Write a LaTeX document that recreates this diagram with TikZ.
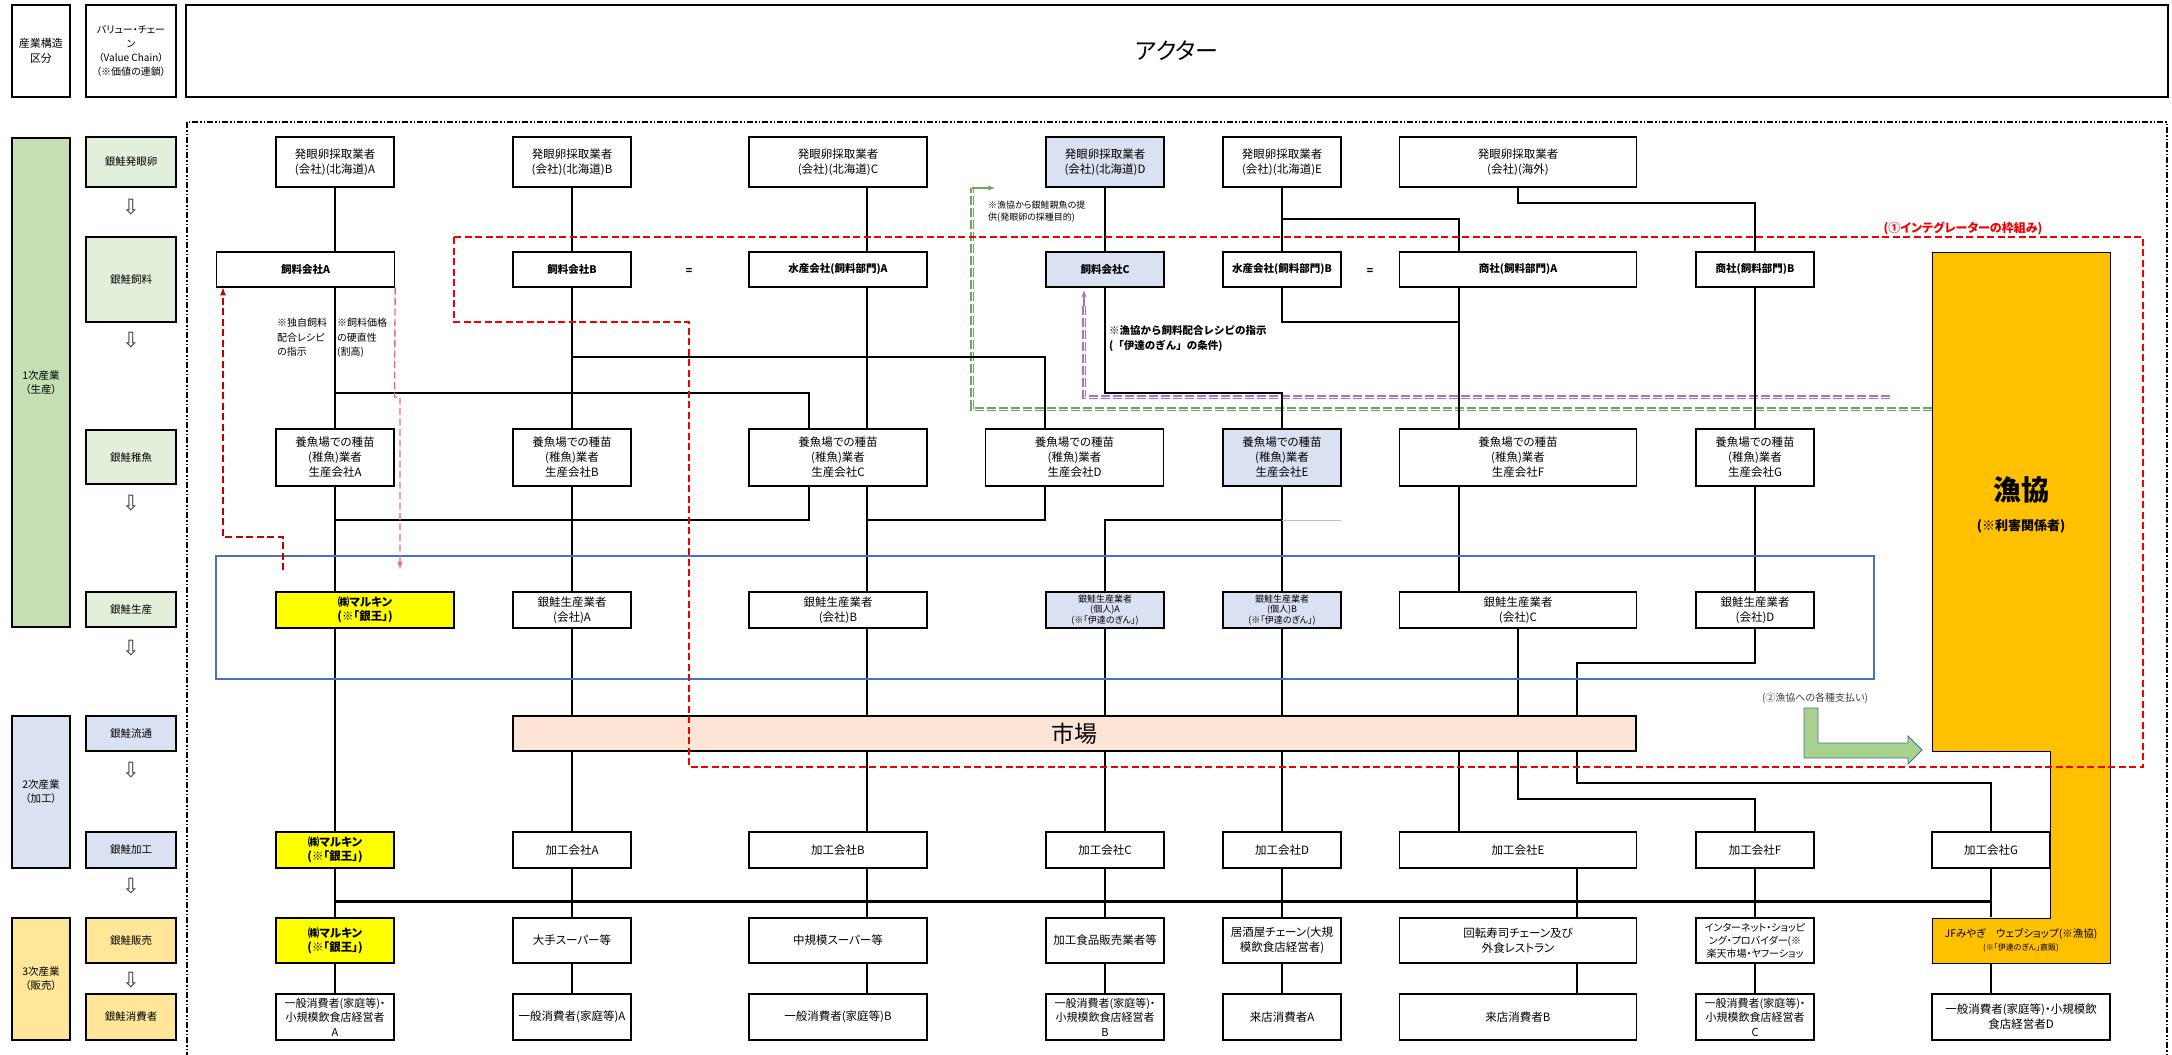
\documentclass[tikz,border=0pt]{standalone}
\usepackage{fontspec}
\setmainfont{Noto Sans CJK JP}[RawFeature=+palt]
\newfontfamily\jpplain{Noto Sans CJK JP}
\newfontfamily\symfont{DejaVu Sans}
\usetikzlibrary{arrows,scopes,shapes.geometric}
\definecolor{fillgreen}{RGB}{226,239,218}
\definecolor{catgreen}{RGB}{197,224,180}
\definecolor{fillblue}{RGB}{217,225,242}
\definecolor{fillyel}{RGB}{255,230,153}
\definecolor{marukin}{RGB}{255,255,0}
\definecolor{gyokyo}{RGB}{255,192,0}
\definecolor{ichiba}{RGB}{252,228,214}
\definecolor{frred}{RGB}{240,0,0}
\definecolor{darkred}{RGB}{192,0,0}
\definecolor{pinkred}{RGB}{232,110,110}
\definecolor{dgreen}{RGB}{110,165,100}
\definecolor{dpurple}{RGB}{165,115,205}
\definecolor{rectblue}{RGB}{68,114,196}
\definecolor{payfill}{RGB}{169,209,142}
\definecolor{payline}{RGB}{65,113,156}
\tikzstyle{hdbox} = [rectangle, draw=black, line width=1.6pt, align=center, inner sep=0pt]
\tikzstyle{vcbox} = [rectangle, draw=black, line width=1.8pt, minimum width=90, align=center, inner sep=0pt, font=\fontsize{10.5}{13}\selectfont]
\tikzstyle{actor} = [rectangle, draw=black, line width=1.3pt, fill=white, minimum width=118, align=center, inner sep=0pt, font=\fontsize{11.5}{15}\selectfont]
\tikzstyle{midw} = [minimum width=178]
\tikzstyle{widew} = [minimum width=237]
\tikzstyle{feedtxt} = [font=\bfseries\fontsize{10.5}{13}\selectfont]
\tikzstyle{mkbox} = [fill=marukin, font=\bfseries\fontsize{11.5}{14}\selectfont]
\tikzstyle{conn} = [line width=2.4pt]
\tikzstyle{redline} = [line width=1.8pt, dash pattern=on 7pt off 3.5pt]
\tikzstyle{gdash} = [draw=white, line width=1pt, dash pattern=on 9pt off 3pt, preaction={draw=dgreen, line width=3.2pt, dash pattern=on 9pt off 3pt}]
\tikzstyle{pdash} = [draw=white, line width=1pt, dash pattern=on 9pt off 3pt, preaction={draw=dpurple, line width=3.2pt, dash pattern=on 9pt off 3pt}]
\tikzstyle{memo} = [anchor=north west, align=left, inner sep=0pt]
\tikzstyle{dnarrow} = [font=\symfont\fontsize{21}{21}\selectfont, text=black!75]

\begin{document}
\begin{tikzpicture}[x=1pt, y=-1pt]
    \useasboundingbox (0,0) rectangle (2172,1055);
    \clip (0,0) rectangle (2172,1055);
    \draw[line width=1.8pt, dash pattern=on 6pt off 2pt on 1.5pt off 2pt on 1.5pt off 2pt] (187,122) rectangle (2167,1080);
    \draw[fill=gyokyo, line width=1pt] (1932,252) -- (2110,252) -- (2110,963) -- (1932,963) -- (1932,918) -- (2050,918) -- (2050,751) -- (1932,751) -- cycle;

    \node[hdbox, minimum width=58, minimum height=92, font=\fontsize{11}{15}\selectfont] (hdKubun) at (41,51) {産業構造\\区分};
    \node[hdbox, minimum width=90, minimum height=92, font=\fontsize{10}{14}\selectfont] (hdChain) at (131,51) {バリュー・チェー\\ン\\（Value Chain）\\（※価値の連鎖）};
    \node[hdbox, minimum width=1982, minimum height=92, font=\fontsize{23}{25}\selectfont] (hdActor) at (1177,51) {アクター};

    \node[hdbox, fill=catgreen, minimum width=58, minimum height=489, font=\fontsize{10.5}{14}\selectfont] (cat1) at (41,382.5) {1次産業\\（生産）};
    \node[hdbox, fill=fillblue, minimum width=58, minimum height=152, font=\fontsize{10.5}{14}\selectfont] (cat2) at (41,792) {2次産業\\（加工）};
    \node[hdbox, fill=fillyel, minimum width=58, minimum height=122, font=\fontsize{10.5}{14}\selectfont] (cat3) at (41,979) {3次産業\\（販売）};

    \node[vcbox, fill=fillgreen, minimum height=50] (vc1) at (131,162) {銀鮭発眼卵};
    \node[vcbox, fill=fillgreen, minimum height=85] (vc2) at (131,279.5) {銀鮭飼料};
    \node[vcbox, fill=fillgreen, minimum height=54] (vc3) at (131,457) {銀鮭稚魚};
    \node[vcbox, fill=fillgreen, minimum height=35] (vc4) at (131,609.5) {銀鮭生産};
    \node[vcbox, fill=fillblue, minimum height=35] (vc5) at (131,733.5) {銀鮭流通};
    \node[vcbox, fill=fillblue, minimum height=36] (vc6) at (131,850) {銀鮭加工};
    \node[vcbox, fill=fillyel, minimum height=45] (vc7) at (131,940.5) {銀鮭販売};
    \node[vcbox, fill=fillyel, minimum height=46] (vc8) at (131,1017) {銀鮭消費者};
    \foreach \y [count=\i] in {207,340,503,648,770,886,980}
        \node[dnarrow] (dn\i) at (131,\y) {⇩};

    \begin{scope}[nodes={minimum height=50}]
        \node[actor] (hgA) at (335,162) {発眼卵採取業者\\(会社)(北海道)A};
        \node[actor] (hgB) at (572,162) {発眼卵採取業者\\(会社)(北海道)B};
        \node[actor, midw] (hgC) at (838,162) {発眼卵採取業者\\(会社)(北海道)C};
        \node[actor, fill=fillblue] (hgD) at (1105,162) {発眼卵採取業者\\(会社)(北海道)D};
        \node[actor] (hgE) at (1282,162) {発眼卵採取業者\\(会社)(北海道)E};
        \node[actor, widew] (hgX) at (1518,162) {発眼卵採取業者\\(会社)(海外)};
    \end{scope}
    \begin{scope}[nodes={minimum height=35}]
        \node[actor, midw, feedtxt] (fdA) at (305.5,269.5) {飼料会社A};
        \node[actor, feedtxt] (fdB) at (572,269.5) {飼料会社B};
        \node[actor, midw, feedtxt] (sfA) at (838,269.5) {水産会社(飼料部門)A};
        \node[actor, feedtxt, fill=fillblue] (fdC) at (1105,269.5) {飼料会社C};
        \node[actor, feedtxt] (sfB) at (1282,269.5) {水産会社(飼料部門)B};
        \node[actor, widew, feedtxt] (shA) at (1518,269.5) {商社(飼料部門)A};
        \node[actor, feedtxt] (shB) at (1755,269.5) {商社(飼料部門)B};
    \end{scope}
    \node[feedtxt] (eq1) at (689,271) {=};
    \node[feedtxt] (eq2) at (1370,271) {=};
    \begin{scope}[nodes={minimum height=57}]
        \node[actor] (ygA) at (335,457.5) {養魚場での種苗\\(稚魚)業者\\生産会社A};
        \node[actor] (ygB) at (572,457.5) {養魚場での種苗\\(稚魚)業者\\生産会社B};
        \node[actor, midw] (ygC) at (838,457.5) {養魚場での種苗\\(稚魚)業者\\生産会社C};
        \node[actor, midw] (ygD) at (1074.5,457.5) {養魚場での種苗\\(稚魚)業者\\生産会社D};
        \node[actor, fill=fillblue] (ygE) at (1282,457.5) {養魚場での種苗\\(稚魚)業者\\生産会社E};
        \node[actor, widew] (ygF) at (1518,457.5) {養魚場での種苗\\(稚魚)業者\\生産会社F};
        \node[actor] (ygG) at (1755,457.5) {養魚場での種苗\\(稚魚)業者\\生産会社G};
    \end{scope}
    \begin{scope}[nodes={minimum height=36}]
        \node[actor, midw, mkbox] (mk1) at (365,610) {㈱マルキン\\(※「銀王」)};
        \node[actor] (ssA) at (572,610) {銀鮭生産業者\\(会社)A};
        \node[actor, midw] (ssB) at (838,610) {銀鮭生産業者\\(会社)B};
        \node[actor, fill=fillblue, font=\fontsize{9}{10.5}\selectfont] (koA) at (1105,610) {銀鮭生産業者\\(個人)A\\(※「伊達のぎん」)};
        \node[actor, fill=fillblue, font=\fontsize{9}{10.5}\selectfont] (koB) at (1282,610) {銀鮭生産業者\\(個人)B\\(※「伊達のぎん」)};
        \node[actor, widew] (ssC) at (1518,610) {銀鮭生産業者\\(会社)C};
        \node[actor] (ssD) at (1755,610) {銀鮭生産業者\\(会社)D};
    \end{scope}
    \node[actor, fill=ichiba, minimum width=1123, minimum height=35, font=\fontsize{23}{25}\selectfont] (mkt) at (1074.5,733.5) {市場};
    \begin{scope}[nodes={minimum height=36}]
        \node[actor, mkbox] (mk2) at (335,850) {㈱マルキン\\(※「銀王」)};
        \node[actor] (kkA) at (572,850) {加工会社A};
        \node[actor, midw] (kkB) at (838,850) {加工会社B};
        \node[actor] (kkC) at (1105,850) {加工会社C};
        \node[actor] (kkD) at (1282,850) {加工会社D};
        \node[actor, widew] (kkE) at (1518,850) {加工会社E};
        \node[actor] (kkF) at (1755,850) {加工会社F};
        \node[actor] (kkG) at (1991,850) {加工会社G};
    \end{scope}
    \begin{scope}[nodes={minimum height=45}]
        \node[actor, mkbox] (mk3) at (335,940.5) {㈱マルキン\\(※「銀王」)};
        \node[actor] (spL) at (572,940.5) {大手スーパー等};
        \node[actor, midw] (spM) at (838,940.5) {中規模スーパー等};
        \node[actor] (kfs) at (1105,940.5) {加工食品販売業者等};
        \node[actor] (izk) at (1282,940.5) {居酒屋チェーン(大規\\模飲食店経営者)};
        \node[actor, widew] (ksu) at (1518,940.5) {回転寿司チェーン及び\\外食レストラン};
        \node[actor, font=\fontsize{10}{13}\selectfont] (net) at (1755,940.5) {インターネット・ショッピ\\ング・プロバイダー(※\\楽天市場・ヤフーショッ};
        \node[actor, midw, draw=none, fill=none, font=\fontsize{10.5}{13}\selectfont] (jf) at (2021,940.5) {JFみやぎ　ウェブショップ(※漁協)\\{\fontsize{8}{10}\selectfont (※「伊達のぎん」直販)}};
    \end{scope}
    \begin{scope}[nodes={minimum height=46}]
        \node[actor, font=\fontsize{11}{14.5}\selectfont] (cs1) at (335,1017) {一般消費者(家庭等)・\\小規模飲食店経営者\\A};
        \node[actor] (cs2) at (572,1017) {一般消費者(家庭等)A};
        \node[actor, midw] (cs3) at (838,1017) {一般消費者(家庭等)B};
        \node[actor, font=\fontsize{11}{14.5}\selectfont] (cs4) at (1105,1017) {一般消費者(家庭等)・\\小規模飲食店経営者\\B};
        \node[actor] (cs5) at (1282,1017) {来店消費者A};
        \node[actor, widew] (cs6) at (1518,1017) {来店消費者B};
        \node[actor, font=\fontsize{11}{14.5}\selectfont] (cs7) at (1755,1017) {一般消費者(家庭等)・\\小規模飲食店経営者\\C};
        \node[actor, midw] (cs8) at (2021,1017) {一般消費者(家庭等)・小規模飲\\食店経営者D};
    \end{scope}
    \node[align=center, font=\bfseries\fontsize{28}{30}\selectfont] (gk) at (2021,505) {漁協\\{\fontsize{13}{15}\selectfont (※利害関係者)}};

    \coordinate (gkG) at (1932,409);
    \coordinate (gArr) at (995,188);
    \draw[gdash] (gkG) -- (972,409) -- (972,188);
    \draw[dgreen, line width=1.3pt, -latex] (972,188) -- (gArr);
    \coordinate (pS) at (1890,397);
    \coordinate (pE) at (1084,290);
    \draw[pdash] (pS) -- (1084,397) -- (1084,306);
    \draw[dpurple, line width=1.3pt, -latex] (1084,306) -- (pE);

    \coordinate (tA) at (335,0);
    \coordinate (tB) at (572,0);
    \coordinate (tC1) at (809,0);
    \coordinate (tC) at (867,0);
    \coordinate (tD) at (1045,0);
    \coordinate (tE1) at (1105,0);
    \coordinate (tE) at (1282,0);
    \coordinate (tF1) at (1459,0);
    \coordinate (tF) at (1518,0);
    \coordinate (tF2) at (1577,0);
    \coordinate (tG) at (1755,0);
    \coordinate (tH) at (1991,0);
    \begin{scope}[conn]
        \draw (hgA.south -| tA) -- (fdA.north -| tA);
        \draw (hgB.south) -- (fdB.north);
        \draw (hgC.south -| tC) -- (sfA.north -| tC);
        \draw (hgD.south) -- (fdC.north);
        \draw (hgE.south) -- (sfB.north);
        \draw (tE |- 0,219) -| (shA.north -| tF1);
        \draw (hgX.south) |- (tG |- 0,203) -- (shB.north);
        \draw (fdA.south -| tA) -- (ygA.north -| tA);
        \draw (tA |- 0,393) -| (ygC.north -| tC1);
        \draw (fdB.south) -- (ygB.north);
        \draw (tB |- 0,357) -| (ygD.north -| tD);
        \draw (sfA.south -| tC) -- (ygC.north -| tC);
        \draw (fdC.south) |- (tE |- 0,393) -- (ygE.north);
        \draw (sfB.south) |- (tF1 |- 0,322);
        \draw (shA.south -| tF1) -- (ygF.north -| tF1);
        \draw (shB.south) -- (ygG.north);
        \draw (ygA.south -| tA) -- (mk1.north -| tA);
        \draw (ygC.south -| tC1) |- (tA |- 0,520);
        \draw (ygB.south) -- (ssA.north);
        \draw (ygC.south -| tC) -- (ssB.north -| tC);
        \draw (ygD.south -| tD) |- (tC |- 0,520);
        \draw (ygE.south) -- (koB.north);
        \draw (tE |- 0,520) -| (koA.north);
        \draw (ygF.south -| tF1) -- (ssC.north -| tF1);
        \draw (ygG.south) -- (ssD.north);
        \draw (mk1.south -| tA) -- (mk2.north);
        \draw (ssA.south) -- (mkt.north -| tB);
        \draw (ssB.south -| tC) -- (mkt.north -| tC);
        \draw (koA.south) -- (mkt.north -| tE1);
        \draw (koB.south) -- (mkt.north -| tE);
        \draw (ssC.south) -- (mkt.north -| tF);
        \draw (ssD.south) |- (tF2 |- 0,663) -- (mkt.north -| tF2);
        \draw (mkt.south -| tB) -- (kkA.north);
        \draw (mkt.south -| tC) -- (kkB.north -| tC);
        \draw (mkt.south -| tE1) -- (kkC.north);
        \draw (mkt.south -| tE) -- (kkD.north);
        \draw (mkt.south -| tF1) -- (kkE.north -| tF1);
        \draw (mkt.south -| tF) |- (tG |- 0,799) -- (kkF.north);
        \draw (mkt.south -| tF2) |- (tH |- 0,783) -- (kkG.north);
        \draw[line width=3pt] (tA |- 0,901) -- (tH |- 0,901);
        \draw (mk2.south) -- (mk3.north);
        \draw (kkA.south) -- (spL.north);
        \draw (kkB.south -| tC) -- (spM.north -| tC);
        \draw (kkC.south) -- (kfs.north);
        \draw (kkD.south) -- (izk.north);
        \draw (kkE.south -| tF2) -- (ksu.north -| tF2);
        \draw (kkF.south) -- (net.north);
        \draw (kkG.south) -- (jf.north -| tH);
        \draw (mk3.south) -- (cs1.north);
        \draw (spL.south) -- (cs2.north);
        \draw (spM.south -| tC) -- (cs3.north -| tC);
        \draw (kfs.south) -- (cs4.north);
        \draw (izk.south) -- (cs5.north);
        \draw (ksu.south -| tF2) -- (cs6.north -| tF2);
        \draw (net.south) -- (cs7.north);
        \draw (jf.south -| tH) -- (cs8.north -| tH);
    \end{scope}
    \draw[black!25, line width=0.8pt] (tE |- 0,520) -- (1341,520);

    \draw[rectblue, line width=1.3pt] (216,556) rectangle (1874,679);
    \draw[redline, frred] (454,237) -- (2143,237) -- (2143,767) -- (689,767) -- (689,322) -- (454,322) -- cycle;
    \node[text=frred, font=\bfseries\fontsize{12}{14}\selectfont] (intL) at (1963,228) {(①インテグレーターの枠組み)};

    \coordinate (rA) at (283,570);
    \coordinate (rB) at (400,569);
    \draw[redline, darkred, line width=1.6pt, -latex] (rA) |- (223,537) -- (fdA.south -| 223,0);
    \draw[redline, pinkred, line width=1.4pt, -latex] (fdA.south east) -- (394.5,397) -- (400,397) -- (rB);
    \node[memo, font=\fontsize{10}{14.5}\selectfont] (noteA) at (277,318) {※独自飼料\\配合レシピ\\の指示};
    \node[memo, font=\fontsize{10}{14.5}\selectfont] (noteB) at (337,318) {※飼料価格\\の硬直性\\(割高)};
    \node[memo, font=\fontsize{9}{12}\selectfont] (noteG) at (988,201) {※漁協から銀鮭親魚の提\\供(発眼卵の採種目的)};
    \node[memo, font=\jpplain\bfseries\fontsize{10.5}{15}\selectfont] (noteP) at (1109,325) {※漁協から飼料配合レシピの指示\\(「伊達のぎん」の条件)};

    \draw[payline, fill=payfill, line width=0.8pt] (1804,708) -- (1818,708) -- (1818,743) -- (1908,743) -- (1908,736) -- (1922,750) -- (1908,764) -- (1908,758) -- (1804,758) -- cycle;
    \node[text=black!75, font=\fontsize{10}{12}\selectfont] (payL) at (1815,698) {(②漁協への各種支払い)};
\end{tikzpicture}
\end{document}
